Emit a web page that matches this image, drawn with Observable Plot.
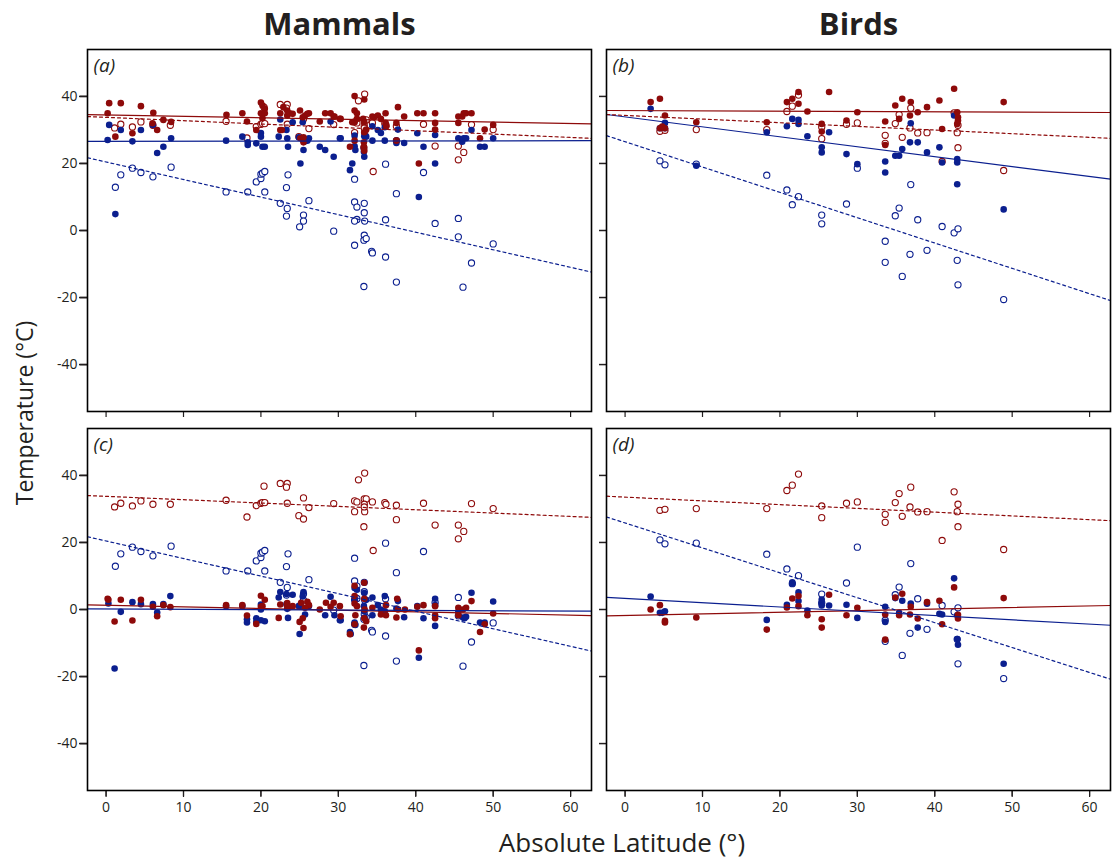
<!DOCTYPE html>
<html><head><meta charset="utf-8">
<script src="https://cdn.jsdelivr.net/npm/d3@7"></script>
<script src="https://cdn.jsdelivr.net/npm/@observablehq/plot@0.6"></script>
<style>
body{margin:0;background:#fff;}
#wrap{position:relative;width:1113px;height:863px;font-family:"Open Sans",sans-serif;color:#231f20;}
.ylab{position:absolute;left:24px;top:413px;transform:translate(-50%,-50%) rotate(-90deg);font-size:23px;white-space:nowrap;}
.xlab{position:absolute;left:622px;top:842px;transform:translate(-50%,-50%);font-size:26px;white-space:nowrap;}
</style></head><body>
<div id="wrap"><div id="chart"></div><div class="ylab">Temperature (°C)</div><div class="xlab">Absolute Latitude (°)</div></div>
<script>
const RED = "#8e0a0a", BLUE = "#0b1f8f";
const columns = ["Mammals", "Birds"];
const rows = ["upper", "lower"];
const panelLetters = ["(a)", "(b)", "(c)", "(d)"];
const xTicks = [0, 10, 20, 30, 40, 50, 60];
const yTicks = [-40, -20, 0, 20, 40];
const lineLat = [-2.4, 62.7];

// Mammals: open red (environmental maximum), open blue (environmental minimum)
const mamOpenRed = [[1.1,30.6],[1.9,31.7],[3.4,30.9],[4.5,32.4],[6.05,31.4],[8.3,31.4],[15.5,32.6],[18.2,27.6],[19.4,31.0],[20.0,31.7],[20.2,31.9],[20.5,31.9],[20.4,36.8],[22.5,37.6],[23.4,37.6],[23.3,36.5],[23.4,31.7],[24.9,28.0],[25.5,27.0],[25.5,33.3],[26.2,30.4],[29.4,31.6],[32.1,32.4],[32.4,32.1],[32.1,29.2],[33.35,33.0],[33.6,33.0],[33.35,31.4],[33.4,29.2],[33.35,30.6],[34.4,32.1],[33.3,24.7],[32.6,38.7],[33.4,40.7],[36.0,31.9],[36.15,31.4],[37.5,31.1],[37.5,26.8],[34.5,17.6],[41.0,31.7],[42.5,25.2],[45.5,25.2],[46.2,23.3],[45.5,21.1],[47.2,31.6],[50.0,30.1]];
const mamOpenBlue = [[1.2,12.9],[1.9,16.6],[3.4,18.6],[4.5,17.3],[6.05,16.0],[8.4,18.9],[15.5,11.5],[18.3,11.5],[19.4,14.5],[20.0,15.5],[20.0,16.8],[20.2,17.1],[20.5,17.6],[20.5,11.5],[22.5,8.1],[23.3,12.8],[23.5,16.6],[23.4,6.6],[23.3,4.3],[25.0,1.1],[25.5,4.6],[25.5,2.8],[26.2,8.9],[29.4,-0.2],[32.1,15.3],[32.1,8.5],[32.4,7.0],[33.35,8.1],[33.35,5.3],[32.4,3.3],[32.1,2.8],[33.4,2.8],[32.1,-4.4],[33.35,-1.4],[33.3,-2.9],[33.6,-2.4],[34.3,-6.2],[34.4,-6.7],[36.1,-7.9],[33.3,-16.7],[36.1,19.8],[37.5,11.0],[36.1,3.2],[37.5,-15.4],[41.0,17.3],[42.5,2.1],[45.5,3.6],[45.5,-1.9],[46.1,-16.9],[47.2,-9.7],[50.0,-4.0]];
// Mammals panel (a): filled red (upper limit), filled blue (lower limit)
const mamFilledRedA = [[0.4,38.0],[1.9,38.0],[0.2,35.0],[4.5,37.1],[6.1,35.1],[1.2,28.0],[3.4,29.0],[6.6,30.0],[7.4,33.0],[8.4,32.4],[6.0,32.0],[15.55,34.5],[17.6,35.0],[18.2,32.5],[19.4,30.0],[20.0,38.2],[20.2,37.3],[20.5,36.3],[20.0,35.0],[20.5,35.0],[20.2,33.5],[22.5,35.0],[22.9,36.8],[23.4,35.8],[23.4,34.3],[23.7,35.0],[24.1,34.8],[22.5,30.0],[22.7,30.0],[25.05,35.8],[25.4,33.8],[25.7,34.3],[26.0,34.8],[26.2,35.0],[25.1,27.5],[25.5,27.8],[25.5,26.3],[27.6,32.5],[28.3,35.0],[29.0,35.0],[29.4,34.0],[30.2,33.3],[29.5,34.0],[30.3,33.3],[32.1,40.1],[32.1,35.8],[32.4,35.0],[31.8,32.3],[32.1,32.3],[32.4,33.3],[33.2,33.3],[33.35,32.3],[33.35,39.1],[33.6,30.1],[33.35,29.3],[32.1,26.8],[33.3,26.3],[31.5,25.0],[33.3,25.0],[33.35,23.8],[34.4,34.0],[34.6,33.8],[35.1,34.3],[35.5,33.3],[36.1,35.0],[36.1,32.1],[36.2,31.1],[37.5,32.1],[37.7,36.8],[38.5,34.0],[37.5,26.8],[40.2,35.0],[41.0,35.0],[42.5,35.0],[42.5,32.1],[42.5,30.1],[40.4,20.0],[45.5,34.0],[45.5,32.1],[46.0,34.0],[46.2,35.0],[46.5,35.0],[47.2,35.0],[48.3,27.5],[48.9,30.1],[50.0,31.5]];
const mamFilledBlueA = [[0.4,31.5],[0.2,27.0],[1.9,30.0],[1.2,4.9],[3.4,26.6],[4.5,30.0],[6.05,31.5],[6.6,23.1],[7.4,25.0],[8.4,27.5],[15.5,26.8],[17.6,28.0],[18.3,25.5],[18.3,26.3],[19.4,26.0],[20.0,29.1],[20.0,28.0],[20.2,25.0],[20.5,25.0],[22.3,28.0],[22.5,33.1],[23.4,27.5],[23.3,30.0],[23.5,25.0],[24.1,32.3],[24.9,27.8],[25.1,20.0],[25.4,32.3],[25.5,24.0],[25.7,26.6],[26.0,26.8],[26.2,27.5],[27.6,25.0],[28.3,24.0],[29.4,22.0],[29.0,32.5],[30.2,27.5],[30.3,27.5],[32.1,28.3],[32.1,25.1],[32.2,24.0],[31.8,20.0],[31.5,18.0],[33.35,28.1],[33.6,28.0],[33.3,23.5],[33.35,22.0],[33.3,24.6],[34.4,26.8],[34.4,31.1],[35.1,30.0],[35.5,29.1],[36.0,26.8],[36.0,30.8],[37.5,26.8],[37.5,26.1],[37.7,30.1],[38.5,26.1],[40.2,29.0],[41.0,25.0],[42.5,28.5],[42.5,20.0],[40.4,10.0],[45.5,27.5],[46.0,26.5],[46.2,27.5],[46.5,27.5],[47.2,30.0],[48.3,25.0],[48.9,25.0],[50.0,27.5]];
// Mammals panel (c): filled red and filled blue
const mamFilledRedC = [[0.2,3.2],[0.3,2.9],[1.1,-3.6],[1.9,2.9],[3.4,-3.3],[4.5,2.9],[6.05,0.8],[6.6,-2.0],[7.4,1.3],[8.3,0.7],[15.5,1.3],[17.6,1.3],[18.2,-1.8],[19.4,-4.3],[20.0,4.1],[20.5,2.9],[20.2,1.0],[20.0,0.8],[22.3,-2.5],[22.5,1.5],[23.4,1.9],[23.4,1.0],[23.7,0.7],[24.1,1.0],[25.0,-3.7],[25.4,-2.6],[25.5,-5.5],[25.2,2.0],[26.0,2.3],[26.2,1.3],[25.7,0.5],[27.6,0.0],[28.4,2.0],[29.0,0.8],[29.4,2.0],[30.2,1.0],[30.3,-2.0],[32.1,7.1],[32.1,4.0],[32.1,1.8],[32.4,1.0],[33.35,8.0],[33.35,3.2],[33.4,0.0],[33.35,-2.6],[33.3,-5.4],[32.1,-4.4],[31.5,-7.4],[33.6,-3.5],[32.2,-1.7],[34.4,0.5],[35.5,-1.5],[36.15,1.3],[36.15,-1.7],[37.6,3.2],[37.7,0.0],[37.5,-2.4],[38.6,0.0],[40.2,0.8],[41.0,1.3],[42.5,1.0],[42.5,-1.7],[42.5,-2.6],[40.4,-12.2],[45.5,0.5],[45.5,-1.7],[46.1,0.0],[46.5,0.5],[47.2,2.5],[48.3,-6.7],[48.9,-4.4],[50.0,-1.2]];
const mamFilledBlueC = [[0.3,1.8],[1.9,-0.7],[1.1,-17.6],[3.4,2.2],[4.5,1.6],[6.05,1.6],[6.6,-0.9],[7.4,1.6],[8.3,4.0],[15.5,1.0],[17.6,1.0],[18.2,-2.9],[18.2,-3.9],[19.4,-2.6],[19.4,-3.7],[20.0,0.0],[20.0,-3.2],[20.5,-3.5],[20.0,1.5],[22.3,3.6],[22.5,5.2],[23.3,4.6],[23.3,1.6],[23.4,0.2],[23.5,-2.5],[24.1,4.4],[25.0,-7.3],[25.5,5.2],[25.4,3.9],[25.7,-1.5],[24.9,1.0],[26.2,1.0],[28.3,-1.7],[29.0,3.8],[29.5,-1.7],[30.2,-3.2],[30.3,-3.2],[32.1,6.4],[32.4,5.9],[32.1,3.2],[33.35,4.9],[33.6,2.9],[33.35,-0.5],[33.4,-2.4],[33.3,1.0],[32.1,-3.9],[32.2,-4.6],[31.5,-6.7],[31.6,-7.3],[34.4,3.6],[34.4,-1.7],[35.1,1.3],[35.5,0.0],[36.0,4.0],[36.0,-0.5],[37.5,0.3],[37.7,2.5],[38.5,-2.3],[40.2,1.0],[41.0,-2.6],[42.5,3.2],[42.5,1.3],[42.5,-4.9],[40.4,-14.4],[45.5,-0.7],[46.1,-2.4],[46.3,-2.6],[46.5,-2.2],[47.2,5.0],[48.3,-3.9],[48.9,-3.9],[50.0,2.4]];

// Birds: open red, open blue
const birdOpenRed = [[4.5,29.6],[5.15,29.9],[9.2,30.1],[18.3,30.1],[20.9,35.5],[21.6,37.1],[22.4,40.4],[25.4,30.9],[25.4,27.4],[28.6,31.7],[30.0,32.1],[33.6,28.4],[33.6,26.0],[34.9,31.9],[35.4,34.6],[35.8,27.8],[36.8,30.6],[36.9,36.5],[37.8,29.1],[39.0,29.2],[40.95,20.6],[42.5,35.1],[43.0,31.4],[42.9,29.2],[43.0,24.7],[48.9,17.9]];
const birdOpenBlue = [[4.5,20.8],[5.15,19.6],[9.2,19.8],[18.3,16.5],[20.9,12.1],[21.6,7.7],[22.4,10.1],[25.4,4.6],[25.4,2.0],[28.6,7.9],[30.0,18.6],[33.6,-3.2],[33.6,-9.5],[34.9,4.4],[35.4,6.7],[35.8,-13.7],[36.8,-7.1],[36.9,13.7],[37.8,3.2],[39.0,-5.9],[40.95,1.2],[42.5,-0.7],[43.0,0.5],[42.9,-8.9],[43.0,-16.2],[48.9,-20.6]];
// Birds panel (b)
const birdFilledRedB = [[3.3,38.3],[4.5,39.3],[5.15,34.3],[4.5,30.5],[5.15,30.5],[4.8,31.0],[9.2,32.3],[18.3,32.3],[20.9,38.3],[21.6,39.3],[22.4,41.3],[22.4,37.8],[23.55,35.5],[25.4,31.8],[25.4,29.5],[26.35,41.3],[28.6,32.8],[30.0,35.3],[33.6,32.5],[33.6,25.5],[34.9,37.3],[35.8,39.3],[36.9,38.3],[36.8,34.3],[35.4,33.3],[37.8,35.3],[39.0,36.8],[40.6,38.8],[40.95,30.3],[42.5,42.3],[42.9,35.3],[43.0,33.8],[43.0,32.8],[42.9,31.8],[48.9,38.3]];
const birdFilledBlueB = [[3.3,36.3],[5.15,32.1],[4.5,30.5],[5.15,30.5],[9.2,19.3],[18.3,29.3],[20.9,31.1],[21.6,33.3],[22.4,33.0],[22.4,31.8],[23.55,28.1],[25.4,24.8],[25.4,23.3],[26.35,29.3],[28.6,22.8],[30.0,19.8],[33.6,20.6],[33.6,17.3],[34.9,22.3],[35.4,22.3],[35.8,24.3],[36.8,26.3],[37.8,26.3],[36.9,32.0],[39.0,23.3],[40.6,24.8],[40.95,20.3],[42.5,34.3],[42.9,21.3],[42.9,20.3],[42.9,13.8],[48.9,6.3]];
// Birds panel (d)
const birdFilledRedD = [[3.3,0.0],[4.5,1.3],[5.15,-3.4],[5.15,-3.9],[9.2,-2.4],[18.3,-6.0],[20.9,0.6],[21.6,3.3],[22.4,4.0],[22.4,1.0],[23.55,-1.7],[25.4,-2.9],[25.4,-5.4],[26.35,4.4],[28.6,-1.7],[30.0,0.5],[33.6,-1.5],[33.6,-9.0],[34.9,3.6],[35.8,4.7],[36.9,0.8],[36.8,-1.5],[35.4,-1.7],[37.8,-2.7],[39.0,2.2],[40.6,2.6],[40.95,-4.4],[42.5,6.6],[43.0,-1.6],[43.0,-2.7],[48.9,3.4]];
const birdFilledBlueD = [[3.3,3.9],[4.5,-1.0],[5.15,-0.5],[4.8,-1.0],[18.3,-3.1],[20.9,1.4],[21.6,7.7],[21.6,8.1],[22.4,5.1],[22.4,2.5],[23.55,-0.3],[25.4,3.0],[25.4,1.8],[25.4,1.2],[26.35,1.2],[28.6,1.4],[30.0,-2.5],[33.6,0.8],[33.6,-3.7],[34.9,3.4],[35.8,2.6],[36.9,1.8],[37.8,-5.4],[39.0,1.7],[40.6,-1.3],[40.95,-1.5],[42.5,9.3],[42.9,-1.7],[42.9,-8.8],[43.0,-10.5],[48.9,-16.2],[35.4,-1.0]];

// Regression lines: temperature at the two ends of lineLat
const mamLineRedSolidA = [34.6, 31.8], mamLineRedDash = [34.0, 27.5], mamLineBlueSolidA = [26.6, 26.8], mamLineBlueDash = [21.7, -12.4];
const mamLineRedSolidC = [1.4, -1.8], mamLineBlueSolidC = [0.2, -0.5];
const birdLineRedSolidB = [35.8, 35.2], birdLineRedDashB = [34.6, 27.5], birdLineBlueSolidB = [34.6, 15.3], birdLineBlueDashB = [28.3, -20.9];
const birdLineRedSolidD = [-1.9, 1.2], birdLineBlueSolidD = [3.6, -4.7], birdLineRedDashD = [33.8, 26.5], birdLineBlueDashD = [27.6, -20.8];

// ---- build tables ----
const pts = (arr, col, row, kind, temp) => arr.map(([lat, t]) => ({lat, t, col, row, kind, temp}));
const points = [
  ...pts(mamOpenBlue, "Mammals", "upper", "open", "cold"), ...pts(mamOpenRed, "Mammals", "upper", "open", "hot"),
  ...pts(mamOpenBlue, "Mammals", "lower", "open", "cold"), ...pts(mamOpenRed, "Mammals", "lower", "open", "hot"),
  ...pts(birdOpenBlue, "Birds", "upper", "open", "cold"), ...pts(birdOpenRed, "Birds", "upper", "open", "hot"),
  ...pts(birdOpenBlue, "Birds", "lower", "open", "cold"), ...pts(birdOpenRed, "Birds", "lower", "open", "hot"),
  ...pts(mamFilledBlueA, "Mammals", "upper", "filled", "cold"), ...pts(mamFilledRedA, "Mammals", "upper", "filled", "hot"),
  ...pts(mamFilledBlueC, "Mammals", "lower", "filled", "cold"), ...pts(mamFilledRedC, "Mammals", "lower", "filled", "hot"),
  ...pts(birdFilledBlueB, "Birds", "upper", "filled", "cold"), ...pts(birdFilledRedB, "Birds", "upper", "filled", "hot"),
  ...pts(birdFilledBlueD, "Birds", "lower", "filled", "cold"), ...pts(birdFilledRedD, "Birds", "lower", "filled", "hot")
];
const lineDefs = [
  ["Mammals","upper","hot","solid",mamLineRedSolidA],["Mammals","upper","hot","dash",mamLineRedDash],
  ["Mammals","upper","cold","solid",mamLineBlueSolidA],["Mammals","upper","cold","dash",mamLineBlueDash],
  ["Mammals","lower","hot","solid",mamLineRedSolidC],["Mammals","lower","hot","dash",mamLineRedDash],
  ["Mammals","lower","cold","solid",mamLineBlueSolidC],["Mammals","lower","cold","dash",mamLineBlueDash],
  ["Birds","upper","hot","solid",birdLineRedSolidB],["Birds","upper","hot","dash",birdLineRedDashB],
  ["Birds","upper","cold","solid",birdLineBlueSolidB],["Birds","upper","cold","dash",birdLineBlueDashB],
  ["Birds","lower","hot","solid",birdLineRedSolidD],["Birds","lower","hot","dash",birdLineRedDashD],
  ["Birds","lower","cold","solid",birdLineBlueSolidD],["Birds","lower","cold","dash",birdLineBlueDashD]
];
const lines = lineDefs.flatMap(([col, row, temp, style, vals], i) =>
  lineLat.map((lat, j) => ({lat, t: vals[j], col, row, temp, style, id: i})));
const panelLabels = [
  {col: "Mammals", row: "upper", label: panelLetters[0]}, {col: "Birds", row: "upper", label: panelLetters[1]},
  {col: "Mammals", row: "lower", label: panelLetters[2]}, {col: "Birds", row: "lower", label: panelLetters[3]}
];

const chart = Plot.plot({
  width: 1113, height: 863,
  marginLeft: 87, marginRight: 3, marginTop: 48, marginBottom: 73,
  style: {fontFamily: "'Open Sans', sans-serif", color: "#231f20", background: "#fff"},
  x: {domain: [-2.4, 62.7]},
  y: {domain: [-54, 54]},
  fx: {domain: columns, padding: 0.029, label: null},
  fy: {domain: rows, padding: 0.045, label: null, axis: null},
  color: {domain: ["hot", "cold"], range: [RED, BLUE]},
  marks: [
    Plot.axisFx({anchor: "top", label: null, tickSize: 0, tickPadding: 15, fontSize: 31, fontWeight: "bold"}),
    Plot.axisY(yTicks, {anchor: "left", label: null, tickSize: 8, tickPadding: 2, fontSize: 14, strokeWidth: 1.5, tickFormat: d => String(d)}),
    Plot.axisY(yTicks, {anchor: "left", label: null, tickSize: 7, strokeWidth: 1.5, tickFormat: () => "", facetAnchor: null}),
    Plot.axisX(xTicks, {anchor: "bottom", label: null, tickSize: 7, tickPadding: 5, fontSize: 14, strokeWidth: 1.2, tickFormat: d => String(d)}),
    Plot.axisX(xTicks, {anchor: "bottom", label: null, tickSize: 6, strokeWidth: 1.2, tickFormat: () => "", facetAnchor: null}),
    Plot.dot(points.filter(d => d.kind === "open"), {x: "lat", y: "t", fx: "col", fy: "row", r: 3.1, stroke: "temp", fill: "white", strokeWidth: 1.1}),
    Plot.dot(points.filter(d => d.kind === "filled" && d.temp === "cold"), {x: "lat", y: "t", fx: "col", fy: "row", r: 3.3, fill: "temp"}),
    Plot.dot(points.filter(d => d.kind === "filled" && d.temp === "hot"), {x: "lat", y: "t", fx: "col", fy: "row", r: 3.3, fill: "temp"}),
    Plot.line(lines.filter(d => d.style === "solid"), {x: "lat", y: "t", z: "id", fx: "col", fy: "row", stroke: "temp", strokeWidth: 1.2}),
    Plot.line(lines.filter(d => d.style === "dash"), {x: "lat", y: "t", z: "id", fx: "col", fy: "row", stroke: "temp", strokeWidth: 1.2, strokeDasharray: "3,3"}),
    Plot.text(panelLabels, {fx: "col", fy: "row", text: "label", frameAnchor: "top-left", dx: 6, dy: 9, fontSize: 19, fontStyle: "italic", fill: "#231f20"}),
    Plot.frame({stroke: "#000", strokeWidth: 1.6})
  ]
});
document.getElementById("chart").appendChild(chart);
</script>
</body></html>
